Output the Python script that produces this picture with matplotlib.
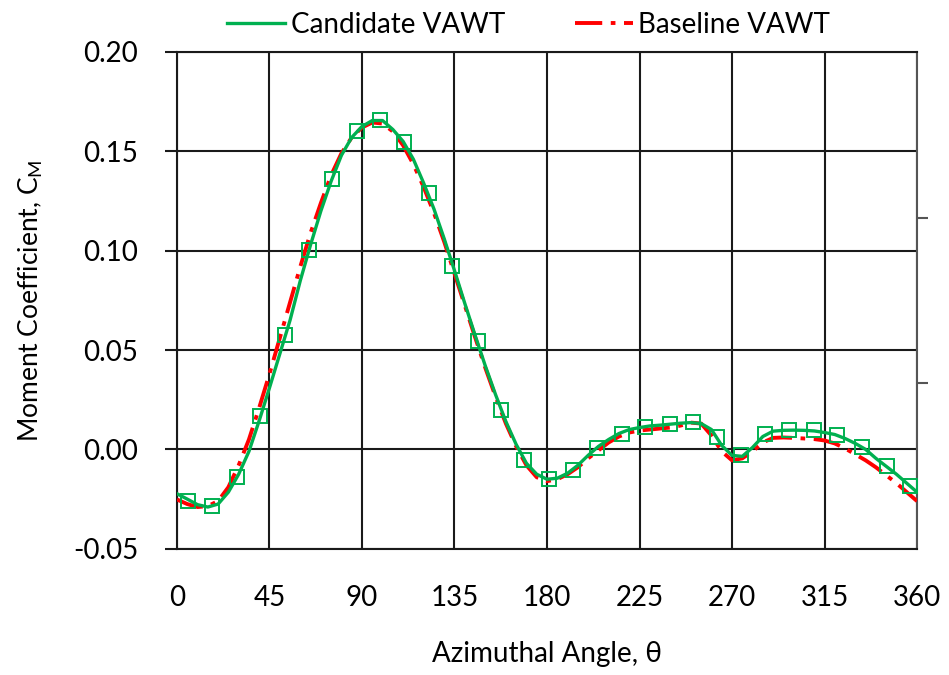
import matplotlib
matplotlib.use("Agg")
import matplotlib.pyplot as plt
from matplotlib import font_manager

# --- data ---
theta_line = list(range(0, 361, 5))
candidate_line = [
    -0.0223, -0.0250, -0.0278, -0.0290, -0.0275, -0.0215, -0.0125, -0.0010, 0.0145, 0.0310,
    0.0480, 0.0650, 0.0850, 0.1030, 0.1200, 0.1350, 0.1480, 0.1570, 0.1625, 0.1655,
    0.1655, 0.1610, 0.1550, 0.1460, 0.1340, 0.1210, 0.1060, 0.0900, 0.0735, 0.0575,
    0.0420, 0.0275, 0.0140, 0.0025, -0.0070, -0.0125, -0.0150, -0.0145, -0.0120, -0.0080,
    -0.0030, 0.0015, 0.0050, 0.0080, 0.0100, 0.0110, 0.0118, 0.0122, 0.0127, 0.0132,
    0.0135, 0.0130, 0.0100, 0.0020, -0.0030, -0.0035, 0.0010, 0.0065, 0.0092, 0.0096,
    0.0097, 0.0096, 0.0093, 0.0085, 0.0075, 0.0055, 0.0030, 0.0000, -0.0045, -0.0085,
    -0.0125, -0.0170, -0.0215,
]
baseline_line = [
    -0.0252, -0.0275, -0.0290, -0.0285, -0.0260, -0.0190, -0.0080, 0.0050, 0.0210, 0.0380,
    0.0560, 0.0740, 0.0920, 0.1090, 0.1240, 0.1380, 0.1490, 0.1570, 0.1620, 0.1645,
    0.1640, 0.1600, 0.1530, 0.1435, 0.1320, 0.1190, 0.1045, 0.0885, 0.0725, 0.0565,
    0.0410, 0.0265, 0.0130, 0.0015, -0.0080, -0.0140, -0.0160, -0.0150, -0.0125, -0.0090,
    -0.0045, -0.0005, 0.0035, 0.0065, 0.0085, 0.0095, 0.0100, 0.0105, 0.0110, 0.0120,
    0.0135, 0.0130, 0.0070, -0.0010, -0.0055, -0.0045, -0.0010, 0.0035, 0.0058, 0.0060,
    0.0058, 0.0055, 0.0052, 0.0045, 0.0030, 0.0005, -0.0025, -0.0055, -0.0090, -0.0130,
    -0.0170, -0.0215, -0.0260,
]

theta_marks = [5.5, 16.9, 29.1, 40.5, 52.7, 64.0, 75.5, 87.7, 99.0, 110.4, 122.6, 134.0,
               146.2, 157.8, 168.9, 181.1, 192.8, 204.2, 216.3, 227.7, 239.9, 251.2,
               262.7, 274.5, 286.2, 297.6, 309.8, 321.2, 333.4, 345.2, 356.6]
candidate_marks = [-0.0260, -0.0286, -0.0140, 0.0170, 0.0574, 0.1002, 0.1363, 0.1600,
                   0.1659, 0.1548, 0.1288, 0.0925, 0.0544, 0.0196, -0.0055, -0.0148,
                   -0.0105, 0.0009, 0.0079, 0.0114, 0.0129, 0.0139, 0.0062, -0.0030,
                   0.0079, 0.0096, 0.0097, 0.0072, 0.0012, -0.0084, -0.0185]

x_ticks = [0, 45, 90, 135, 180, 225, 270, 315, 360]
y_ticks = [-0.05, 0.00, 0.05, 0.10, 0.15, 0.20]
right_ticks = [0.0333, 0.1167]

green = "#00B050"
red = "#FF0000"
grid_col = "#1a1a1a"

names = {f.name for f in font_manager.fontManager.ttflist}
main_font = "Lato" if "Lato" in names else "DejaVu Sans"
plt.rcParams["font.family"] = [main_font, "DejaVu Sans"]

fig = plt.figure(figsize=(9.49, 6.75), dpi=100)
ax = fig.add_axes([0.1865, 0.187, 0.7798, 0.736])

ax.plot(theta_line, baseline_line, color=red, lw=2.8, dashes=(7, 2.2, 1.2, 2.2),
        label="Baseline VAWT", zorder=3)
ax.plot(theta_line, candidate_line, color=green, lw=2.4, label="Candidate VAWT", zorder=4)
ax.plot(theta_marks, candidate_marks, ls="none", marker="s", ms=9.5, mfc="none",
        mec=green, mew=1.4, zorder=5)

ax.set_xlim(0, 360)
ax.set_ylim(-0.05, 0.20)
ax.set_xticks(x_ticks)
ax.set_yticks(y_ticks)
ax.set_xticklabels([str(t) for t in x_ticks], fontsize=20)
ax.set_yticklabels(["%.2f" % t for t in y_ticks], fontsize=20)
ax.tick_params(axis="x", length=0, pad=26)
ax.tick_params(axis="y", length=9, width=1.5, color=grid_col, pad=19, direction="out")
ax.grid(True, color=grid_col, lw=1.5)
ax.set_axisbelow(True)
for s in ["left", "bottom", "top"]:
    ax.spines[s].set_color(grid_col)
    ax.spines[s].set_linewidth(1.5)
ax.spines["right"].set_color("#555555")
ax.spines["right"].set_linewidth(1.5)

ax.set_xlabel("Azimuthal Angle, θ", fontsize=20, labelpad=22)
ax.set_ylabel("Moment Coefficient, C$_\\mathregular{M}$", fontsize=19, labelpad=20)

ax2 = ax.twinx()
ax2.set_ylim(ax.get_ylim())
ax2.set_yticks(right_ticks)
ax2.set_yticklabels([])
ax2.tick_params(axis="y", length=8, width=1.5, color="#555555", direction="out")
for s in ax2.spines.values():
    s.set_visible(False)

handles, labels = ax.get_legend_handles_labels()
fig.legend(handles[::-1], labels[::-1], loc="center", bbox_to_anchor=(0.557, 0.963),
           ncol=2, frameon=False, prop={"size": 20},
           handlelength=2.1, handletextpad=0.2, columnspacing=2.5)

fig.savefig("out.png", dpi=100)
